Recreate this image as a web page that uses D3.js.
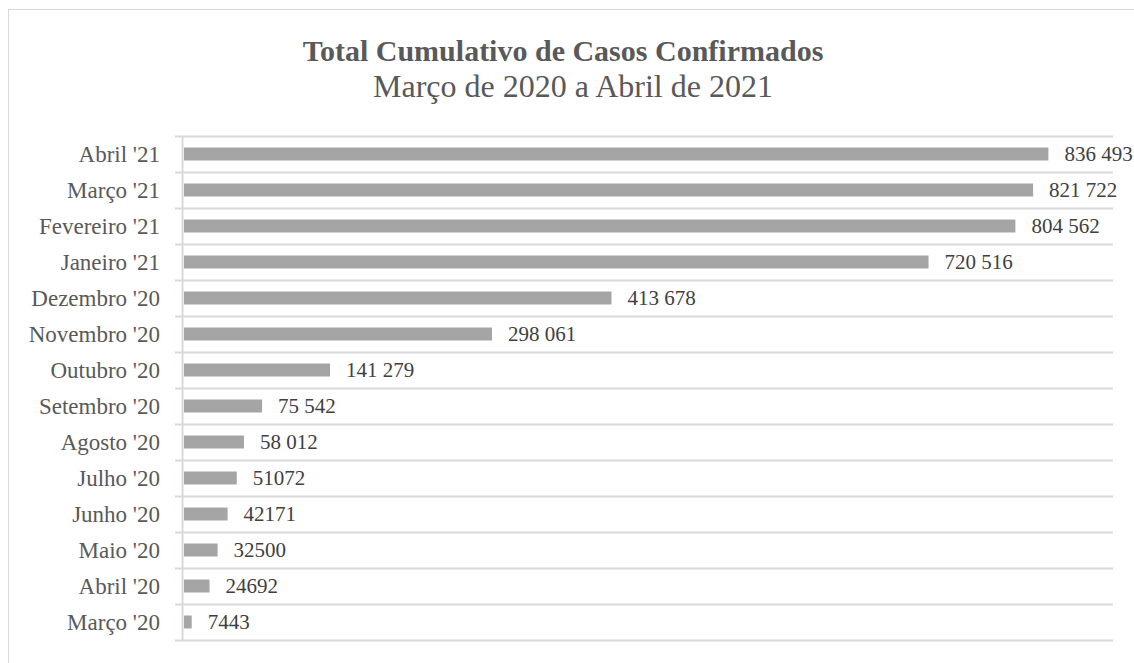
<!DOCTYPE html>
<html>
<head>
<meta charset="utf-8">
<script src="https://cdn.jsdelivr.net/npm/d3@7"></script>
<style>
  body { margin: 0; background: #fff; }
  svg { display: block; }
</style>
</head>
<body>
<div id="chart"></div>
<script>
// data, bottom to top as in the chart
var months = ["Março '20", "Abril '20", "Maio '20", "Junho '20", "Julho '20", "Agosto '20",
  "Setembro '20", "Outubro '20", "Novembro '20", "Dezembro '20", "Janeiro '21",
  "Fevereiro '21", "Março '21", "Abril '21"];
var cases = [7443, 24692, 32500, 42171, 51072, 58012, 75542, 141279, 298061, 413678,
  720516, 804562, 821722, 836493];
var caseLabels = ["7443", "24692", "32500", "42171", "51072", "58 012", "75 542", "141 279",
  "298 061", "413 678", "720 516", "804 562", "821 722", "836 493"];

var W = 1134, H = 663;
var margin = {top: 136, right: 21, bottom: 22, left: 183};
var width = W - margin.left - margin.right,
    height = 504;

var svg = d3.select("#chart").append("svg")
  .attr("width", W)
  .attr("height", H)
  .style("font-family", "'Liberation Serif', 'Times New Roman', serif");

// outer chart border
svg.append("rect")
  .attr("x", 8.5).attr("y", 9.5)
  .attr("width", W + 10).attr("height", H + 10)
  .attr("fill", "none")
  .attr("stroke", "#d9d9d9");

svg.append("text")
  .attr("x", 563).attr("y", 61)
  .attr("text-anchor", "middle")
  .attr("fill", "#595959")
  .style("font-size", "30px")
  .style("font-weight", "bold")
  .text("Total Cumulativo de Casos Confirmados");

svg.append("text")
  .attr("x", 573).attr("y", 97)
  .attr("text-anchor", "middle")
  .attr("fill", "#595959")
  .style("font-size", "32px")
  .text("Março de 2020 a Abril de 2021");

var g = svg.append("g")
  .attr("transform", "translate(" + margin.left + "," + margin.top + ")");

var x = d3.scaleLinear().domain([0, 900000]).range([0, width]);
var y = d3.scaleBand().domain(months.slice().reverse()).range([0, height]).paddingInner(0.64).paddingOuter(0.32);

// band separators
var edges = d3.range(months.length + 1).map(function(i) { return i * height / months.length; });
g.selectAll(".grid")
  .data(edges)
  .enter().append("line")
  .attr("x1", -8).attr("x2", width)
  .attr("y1", function(d) { return Math.round(d) + 0.5; })
  .attr("y2", function(d) { return Math.round(d) + 0.5; })
  .attr("stroke", "#d9d9d9")
  .attr("stroke-width", 2);

// axis line
g.append("line")
  .attr("x1", -0.5).attr("x2", -0.5)
  .attr("y1", 0).attr("y2", height + 1)
  .attr("stroke", "#d9d9d9")
  .attr("stroke-width", 2);

g.selectAll(".bar")
  .data(cases)
  .enter().append("rect")
  .attr("x", 1)
  .attr("y", function(d, i) { return y(months[i]); })
  .attr("width", function(d) { return x(d); })
  .attr("height", y.bandwidth())
  .attr("fill", "#a5a5a5");

g.selectAll(".val")
  .data(cases)
  .enter().append("text")
  .attr("x", function(d) { return x(d) + 17; })
  .attr("y", function(d, i) { return y(months[i]) + y.bandwidth() / 2; })
  .attr("dy", "0.35em")
  .attr("fill", "#404040")
  .style("font-size", "21px")
  .text(function(d, i) { return caseLabels[i]; });

g.selectAll(".cat")
  .data(months)
  .enter().append("text")
  .attr("x", -23)
  .attr("y", function(d) { return y(d) + y.bandwidth() / 2; })
  .attr("dy", "0.35em")
  .attr("text-anchor", "end")
  .attr("fill", "#595959")
  .style("font-size", "23px")
  .text(function(d) { return d; });
</script>
</body>
</html>
